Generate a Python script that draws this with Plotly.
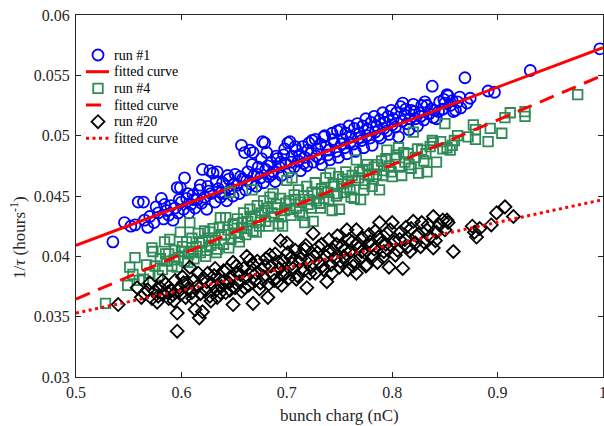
import plotly.graph_objects as go

# ---------------- data ----------------
run1_x = [0.535, 0.546, 0.552, 0.556, 0.559, 0.564, 0.565, 0.568, 0.570, 0.574, 0.578, 0.581, 0.583, 0.586, 0.588,
          0.590, 0.592, 0.594, 0.596, 0.597, 0.599, 0.600, 0.602, 0.603, 0.605, 0.607, 0.609, 0.611, 0.613, 0.615,
          0.617, 0.619, 0.620, 0.622, 0.624, 0.625, 0.627, 0.628, 0.630, 0.632, 0.634, 0.635, 0.637, 0.639, 0.641,
          0.643, 0.645, 0.647, 0.649, 0.651, 0.653, 0.655, 0.657, 0.658, 0.660, 0.661, 0.663, 0.665, 0.666, 0.668,
          0.669, 0.671, 0.673, 0.675, 0.677, 0.678, 0.679, 0.680, 0.681, 0.683, 0.685, 0.687, 0.689, 0.691, 0.693,
          0.695, 0.697, 0.699, 0.701, 0.702, 0.703, 0.705, 0.707, 0.709, 0.711, 0.713, 0.715, 0.717, 0.719, 0.721,
          0.723, 0.725, 0.727, 0.729, 0.731, 0.733, 0.735, 0.737, 0.739, 0.741, 0.743, 0.745, 0.747, 0.749, 0.751,
          0.753, 0.755, 0.757, 0.759, 0.761, 0.763, 0.765, 0.767, 0.769, 0.771, 0.773, 0.775, 0.777, 0.779, 0.781,
          0.783, 0.785, 0.787, 0.789, 0.791, 0.793, 0.795, 0.797, 0.799, 0.801, 0.803, 0.806, 0.808, 0.810, 0.812,
          0.814, 0.816, 0.818, 0.820, 0.822, 0.824, 0.826, 0.828, 0.830, 0.833, 0.835, 0.838, 0.839, 0.840, 0.842,
          0.845, 0.848, 0.850, 0.852, 0.853, 0.855, 0.858, 0.860, 0.862, 0.865, 0.869, 0.874, 0.891, 0.897, 0.931,
          0.997,
          0.576, 0.584, 0.598, 0.606, 0.612, 0.618, 0.626, 0.633, 0.638, 0.644,
          0.650, 0.656, 0.662, 0.667, 0.672, 0.676, 0.682, 0.686, 0.690, 0.694,
          0.698, 0.704, 0.708, 0.712, 0.716, 0.720, 0.724, 0.728, 0.732, 0.736,
          0.740, 0.744, 0.748, 0.752, 0.756, 0.760, 0.764, 0.768, 0.772, 0.776,
          0.780, 0.784, 0.788, 0.792, 0.796, 0.800, 0.804, 0.809, 0.813, 0.817,
          0.821, 0.827, 0.831, 0.837, 0.844, 0.849, 0.857, 0.864, 0.871]
run1_y = [0.0412, 0.0428, 0.0425, 0.0426, 0.0445, 0.0445, 0.0430, 0.0424, 0.0433, 0.0428, 0.0436, 0.0448, 0.0431, 0.0438, 0.0434,
          0.0442, 0.0430, 0.0440, 0.0457, 0.0436, 0.0457, 0.0445, 0.0439, 0.0465, 0.0448, 0.0436, 0.0443, 0.0451, 0.0440, 0.0447,
          0.0455, 0.0444, 0.0472, 0.0449, 0.0439, 0.0458, 0.0471, 0.0452, 0.0469, 0.0445, 0.0470, 0.0456, 0.0449, 0.0461, 0.0452,
          0.0446, 0.0464, 0.0456, 0.0450, 0.0468, 0.0459, 0.0452, 0.0492, 0.0464, 0.0486, 0.0455, 0.0470, 0.0488, 0.0460, 0.0486,
          0.0467, 0.0458, 0.0474, 0.0465, 0.0495, 0.0461, 0.0494, 0.0472, 0.0486, 0.0466, 0.0478, 0.0470, 0.0462, 0.0481, 0.0474,
          0.0467, 0.0484, 0.0477, 0.0494, 0.0470, 0.0495, 0.0483, 0.0474, 0.0488, 0.0479, 0.0471, 0.0491, 0.0482, 0.0475, 0.0494,
          0.0486, 0.0478, 0.0497, 0.0489, 0.0481, 0.0476, 0.0499, 0.0491, 0.0484, 0.0480, 0.0502, 0.0494, 0.0487, 0.0482, 0.0505,
          0.0497, 0.0490, 0.0485, 0.0508, 0.0499, 0.0493, 0.0487, 0.0510, 0.0502, 0.0496, 0.0490, 0.0514, 0.0505, 0.0498, 0.0492,
          0.0516, 0.0508, 0.0500, 0.0498, 0.0519, 0.0511, 0.0504, 0.0501, 0.0521, 0.0514, 0.0507, 0.0499, 0.0524, 0.0527, 0.0517,
          0.0510, 0.0505, 0.0521, 0.0526, 0.0514, 0.0508, 0.0519, 0.0525, 0.0513, 0.0525, 0.0518, 0.0541, 0.0515, 0.0521, 0.0514,
          0.0528, 0.0522, 0.0527, 0.0534, 0.0533, 0.0525, 0.0520, 0.0521, 0.0528, 0.0523, 0.0548, 0.0531, 0.0537, 0.0536, 0.0554,
          0.0572,
          0.0441, 0.0443, 0.0447, 0.0452, 0.0447, 0.0459, 0.0454, 0.0462, 0.0453, 0.0467,
          0.0460, 0.0466, 0.0463, 0.0476, 0.0468, 0.0481, 0.0475, 0.0468, 0.0483, 0.0478,
          0.0489, 0.0478, 0.0491, 0.0484, 0.0477, 0.0488, 0.0496, 0.0483, 0.0493, 0.0500,
          0.0488, 0.0497, 0.0504, 0.0493, 0.0502, 0.0494, 0.0506, 0.0498, 0.0508, 0.0500,
          0.0511, 0.0503, 0.0513, 0.0506, 0.0516, 0.0509, 0.0519, 0.0512, 0.0522, 0.0514,
          0.0520, 0.0516, 0.0528, 0.0522, 0.0520, 0.0530, 0.0529, 0.0532, 0.0527]

run4_x = [0.528, 0.549, 0.551, 0.554, 0.556, 0.560, 0.564, 0.567, 0.570, 0.572, 0.573, 0.575, 0.578, 0.580, 0.582,
          0.584, 0.586, 0.588, 0.589, 0.591, 0.594, 0.596, 0.597, 0.599, 0.601, 0.603, 0.605, 0.607, 0.608, 0.610,
          0.612, 0.614, 0.616, 0.618, 0.620, 0.622, 0.624, 0.626, 0.628, 0.630, 0.632, 0.634, 0.637, 0.638, 0.640,
          0.642, 0.644, 0.646, 0.647, 0.649, 0.651, 0.653, 0.655, 0.657, 0.659, 0.661, 0.663, 0.665, 0.667, 0.668,
          0.670, 0.672, 0.674, 0.676, 0.678, 0.680, 0.682, 0.684, 0.687, 0.688, 0.690, 0.692, 0.694, 0.696, 0.698,
          0.700, 0.702, 0.704, 0.705, 0.707, 0.709, 0.711, 0.713, 0.715, 0.717, 0.719, 0.721, 0.723, 0.725, 0.727,
          0.729, 0.731, 0.733, 0.735, 0.737, 0.739, 0.741, 0.743, 0.745, 0.747, 0.749, 0.750, 0.752, 0.754, 0.756,
          0.758, 0.760, 0.762, 0.764, 0.766, 0.768, 0.770, 0.772, 0.774, 0.776, 0.778, 0.781, 0.783, 0.785, 0.788,
          0.790, 0.792, 0.795, 0.797, 0.800, 0.803, 0.806, 0.809, 0.812, 0.815, 0.818, 0.820, 0.822, 0.825, 0.828,
          0.830, 0.833, 0.836, 0.839, 0.842, 0.846, 0.850, 0.852, 0.855, 0.857, 0.859, 0.872, 0.877, 0.879, 0.879,
          0.891, 0.893, 0.904, 0.907, 0.912, 0.926, 0.926, 0.976,
          0.585, 0.593, 0.600, 0.606, 0.611, 0.617, 0.623, 0.627, 0.633, 0.636,
          0.641, 0.645, 0.650, 0.654, 0.658, 0.662, 0.666, 0.671, 0.675, 0.679,
          0.683, 0.686, 0.691, 0.695, 0.699, 0.703, 0.708, 0.712, 0.716, 0.720,
          0.724, 0.728, 0.732, 0.736, 0.740, 0.744, 0.748, 0.753, 0.757, 0.761,
          0.765, 0.769, 0.773, 0.777, 0.782, 0.786, 0.791, 0.794, 0.799, 0.804,
          0.807, 0.811, 0.816, 0.824, 0.832, 0.838, 0.848, 0.862]
run4_y = [0.0361, 0.0376, 0.0391, 0.0385, 0.0399, 0.0380, 0.0381, 0.0393, 0.0386, 0.0407, 0.0404, 0.0392, 0.0384, 0.0398, 0.0389,
          0.0412, 0.0396, 0.0402, 0.0414, 0.0392, 0.0405, 0.0391, 0.0399, 0.0420, 0.0408, 0.0396, 0.0412, 0.0402, 0.0428, 0.0415,
          0.0398, 0.0408, 0.0419, 0.0403, 0.0412, 0.0421, 0.0405, 0.0415, 0.0409, 0.0423, 0.0413, 0.0406, 0.0432, 0.0418, 0.0410,
          0.0432, 0.0422, 0.0453, 0.0414, 0.0426, 0.0419, 0.0431, 0.0412, 0.0424, 0.0436, 0.0418, 0.0429, 0.0439, 0.0455, 0.0421,
          0.0433, 0.0442, 0.0425, 0.0436, 0.0446, 0.0429, 0.0440, 0.0449, 0.0452, 0.0433, 0.0443, 0.0427, 0.0448, 0.0425, 0.0438,
          0.0463, 0.0446, 0.0434, 0.0465, 0.0451, 0.0440, 0.0455, 0.0445, 0.0434, 0.0428, 0.0458, 0.0447, 0.0440, 0.0429, 0.0461,
          0.0452, 0.0444, 0.0456, 0.0448, 0.0465, 0.0453, 0.0469, 0.0438, 0.0458, 0.0450, 0.0466, 0.0439, 0.0460, 0.0453, 0.0470,
          0.0462, 0.0455, 0.0467, 0.0448, 0.0480, 0.0465, 0.0447, 0.0471, 0.0460, 0.0476, 0.0467, 0.0458, 0.0474, 0.0468, 0.0455,
          0.0479, 0.0471, 0.0488, 0.0475, 0.0466, 0.0481, 0.0490, 0.0467, 0.0478, 0.0485, 0.0473, 0.0503, 0.0482, 0.0469, 0.0488,
          0.0479, 0.0470, 0.0491, 0.0494, 0.0478, 0.0495, 0.0510, 0.0490, 0.0488, 0.0492, 0.0496, 0.0499, 0.0509, 0.0505, 0.0497,
          0.0495, 0.0506, 0.0502, 0.0515, 0.0519, 0.0520, 0.0516, 0.0534,
          0.0402, 0.0397, 0.0404, 0.0395, 0.0404, 0.0412, 0.0400, 0.0420, 0.0403, 0.0424,
          0.0418, 0.0407, 0.0427, 0.0416, 0.0428, 0.0423, 0.0433, 0.0420, 0.0430, 0.0438,
          0.0425, 0.0436, 0.0440, 0.0433, 0.0444, 0.0439, 0.0447, 0.0437, 0.0450, 0.0443,
          0.0453, 0.0446, 0.0440, 0.0454, 0.0447, 0.0460, 0.0452, 0.0464, 0.0457, 0.0449,
          0.0463, 0.0470, 0.0455, 0.0472, 0.0464, 0.0476, 0.0467, 0.0481, 0.0470, 0.0484,
          0.0474, 0.0486, 0.0476, 0.0489, 0.0485, 0.0496, 0.0489, 0.0500]

run20_x = [0.540, 0.558, 0.562, 0.565, 0.570, 0.572, 0.575, 0.578, 0.580, 0.583, 0.585, 0.588, 0.590, 0.592, 0.594,
           0.596, 0.596, 0.598, 0.600, 0.602, 0.604, 0.606, 0.608, 0.610, 0.612, 0.613, 0.615, 0.617, 0.618, 0.620,
           0.621, 0.623, 0.625, 0.627, 0.629, 0.631, 0.633, 0.634, 0.636, 0.638, 0.640, 0.642, 0.643, 0.645, 0.647,
           0.649, 0.649, 0.651, 0.653, 0.655, 0.657, 0.659, 0.661, 0.662, 0.664, 0.666, 0.668, 0.668, 0.670, 0.672,
           0.674, 0.676, 0.678, 0.680, 0.682, 0.683, 0.685, 0.687, 0.689, 0.691, 0.693, 0.694, 0.695, 0.697, 0.699,
           0.700, 0.702, 0.704, 0.706, 0.708, 0.710, 0.712, 0.714, 0.716, 0.718, 0.719, 0.721, 0.723, 0.725, 0.727,
           0.729, 0.731, 0.733, 0.735, 0.737, 0.738, 0.740, 0.742, 0.744, 0.746, 0.748, 0.750, 0.752, 0.754, 0.757,
           0.758, 0.760, 0.762, 0.764, 0.766, 0.766, 0.768, 0.770, 0.772, 0.774, 0.776, 0.778, 0.780, 0.782, 0.784,
           0.786, 0.788, 0.790, 0.792, 0.795, 0.797, 0.800, 0.802, 0.805, 0.808, 0.810, 0.812, 0.815, 0.818, 0.820,
           0.822, 0.825, 0.828, 0.830, 0.833, 0.836, 0.839, 0.839, 0.842, 0.845, 0.848, 0.852, 0.853, 0.858, 0.876,
           0.878, 0.880, 0.883, 0.894, 0.899, 0.907, 0.915,
           0.568, 0.577, 0.582, 0.587, 0.593, 0.601, 0.605, 0.611, 0.616, 0.624,
           0.628, 0.632, 0.637, 0.641, 0.646, 0.652, 0.656, 0.660, 0.665, 0.671,
           0.675, 0.679, 0.684, 0.688, 0.692, 0.696, 0.701, 0.705, 0.709, 0.713,
           0.717, 0.722, 0.726, 0.730, 0.734, 0.739, 0.743, 0.747, 0.751, 0.755,
           0.759, 0.763, 0.767, 0.771, 0.775, 0.779, 0.783, 0.787, 0.791, 0.794,
           0.798, 0.803, 0.807, 0.813, 0.817, 0.823, 0.827, 0.834, 0.841, 0.850]
run20_y = [0.0360, 0.0374, 0.0366, 0.0369, 0.0378, 0.0365, 0.0371, 0.0367, 0.0374, 0.0369, 0.0377, 0.0365, 0.0372, 0.0368, 0.0380,
           0.0353, 0.0338, 0.0374, 0.0369, 0.0378, 0.0366, 0.0373, 0.0391, 0.0370, 0.0380, 0.0356, 0.0375, 0.0349, 0.0369, 0.0354,
           0.0382, 0.0372, 0.0386, 0.0367, 0.0377, 0.0384, 0.0372, 0.0366, 0.0381, 0.0375, 0.0388, 0.0370, 0.0389, 0.0378, 0.0383,
           0.0360, 0.0395, 0.0374, 0.0386, 0.0379, 0.0371, 0.0390, 0.0382, 0.0400, 0.0376, 0.0387, 0.0361, 0.0393, 0.0380, 0.0396,
           0.0373, 0.0389, 0.0383, 0.0398, 0.0366, 0.0377, 0.0392, 0.0385, 0.0402, 0.0379, 0.0390, 0.0413, 0.0376, 0.0396, 0.0386,
           0.0411, 0.0382, 0.0399, 0.0390, 0.0405, 0.0384, 0.0395, 0.0402, 0.0388, 0.0409, 0.0374, 0.0397, 0.0391, 0.0419, 0.0386,
           0.0403, 0.0395, 0.0410, 0.0389, 0.0400, 0.0379, 0.0414, 0.0393, 0.0405, 0.0398, 0.0417, 0.0391, 0.0408, 0.0400, 0.0422,
           0.0389, 0.0404, 0.0412, 0.0396, 0.0422, 0.0386, 0.0407, 0.0399, 0.0415, 0.0403, 0.0393, 0.0418, 0.0409, 0.0400, 0.0421,
           0.0395, 0.0428, 0.0411, 0.0404, 0.0419, 0.0391, 0.0428, 0.0412, 0.0405, 0.0420, 0.0390, 0.0414, 0.0408, 0.0423, 0.0429,
           0.0411, 0.0418, 0.0428, 0.0412, 0.0422, 0.0416, 0.0433, 0.0407, 0.0420, 0.0426, 0.0430, 0.0430, 0.0428, 0.0404, 0.0425,
           0.0420, 0.0416, 0.0423, 0.0426, 0.0436, 0.0441, 0.0433,
           0.0372, 0.0362, 0.0380, 0.0370, 0.0363, 0.0383, 0.0378, 0.0365, 0.0386, 0.0379,
           0.0363, 0.0390, 0.0370, 0.0380, 0.0372, 0.0392, 0.0385, 0.0374, 0.0397, 0.0386,
           0.0378, 0.0392, 0.0401, 0.0380, 0.0395, 0.0385, 0.0403, 0.0394, 0.0381, 0.0398,
           0.0406, 0.0386, 0.0400, 0.0408, 0.0392, 0.0404, 0.0386, 0.0410, 0.0396, 0.0405,
           0.0414, 0.0392, 0.0411, 0.0404, 0.0392, 0.0412, 0.0406, 0.0416, 0.0399, 0.0410,
           0.0422, 0.0401, 0.0414, 0.0424, 0.0404, 0.0417, 0.0408, 0.0426, 0.0413, 0.0422]

fit_x = [0.5, 1.0]
fit1_y = [0.0409, 0.0573]
fit4_y = [0.03646, 0.05501]
fit20_y = [0.0353, 0.0447]

x_ticks = [0.5, 0.6, 0.7, 0.8, 0.9, 1.0]
x_ticklabels = ["0.5", "0.6", "0.7", "0.8", "0.9", "1"]
y_ticks = [0.03, 0.035, 0.04, 0.045, 0.05, 0.055, 0.06]
y_ticklabels = ["0.03", "0.035", "0.04", "0.045", "0.05", "0.055", "0.06"]

legend_labels = ["run #1", "fitted curve", "run #4", "fitted curve", "run #20", "fitted curve"]

assert len(run1_x) == len(run1_y), (len(run1_x), len(run1_y))
assert len(run4_x) == len(run4_y), (len(run4_x), len(run4_y))
assert len(run20_x) == len(run20_y), (len(run20_x), len(run20_y))

# ---------------- styling ----------------
FONT = "Liberation Serif, Times New Roman, serif"
AX = "#262626"
W, H = 604, 426
L, R, T, B = 76, 1, 15, 49
PW, PH = W - L - R, H - T - B

def px2x(px):
    return (px - L) / PW

def px2y(py):
    return (H - B - py) / PH

blue_marker = dict(symbol="circle-open", size=11, color="#0000FF", line=dict(width=1.8))
green_marker = dict(symbol="square-open", size=9.5, color="#2E8B57", line=dict(width=1.8))
black_marker = dict(symbol="diamond-open", size=10, color="#000000", line=dict(width=1.8))
solid_line = dict(color="#FF0000", width=3)
dash_line = dict(color="#FF0000", width=3, dash="15px,9px")
dot_line = dict(color="#FF0000", width=3, dash="3px,3.5px")

fig = go.Figure()
fig.add_trace(go.Scatter(x=run1_x, y=run1_y, mode="markers", name="run #1", marker=blue_marker, showlegend=False))
fig.add_trace(go.Scatter(x=fit_x, y=fit1_y, mode="lines", name="fitted curve", line=solid_line, showlegend=False))
fig.add_trace(go.Scatter(x=run4_x, y=run4_y, mode="markers", name="run #4", marker=green_marker, showlegend=False))
fig.add_trace(go.Scatter(x=fit_x, y=fit4_y, mode="lines", name="fitted curve", line=dash_line, showlegend=False))
fig.add_trace(go.Scatter(x=run20_x, y=run20_y, mode="markers", name="run #20", marker=black_marker, showlegend=False))
fig.add_trace(go.Scatter(x=fit_x, y=fit20_y, mode="lines", name="fitted curve", line=dot_line, showlegend=False))

# ---- legend (compact, MATLAB-like), drawn on an overlay axis in plot-fraction coords ----
row_py = [55, 71.7, 88.3, 105, 121.7, 138.3]
sym_cx, line_x0, line_x1, text_x = 98, 86, 109, 112
styles = [("m", blue_marker), ("l", solid_line), ("m", green_marker),
          ("l", dash_line), ("m", black_marker), ("l", dot_line)]
for (kind, st), py, lab in zip(styles, row_py, legend_labels):
    if kind == "m":
        fig.add_trace(go.Scatter(x=[px2x(sym_cx)], y=[px2y(py)], mode="markers", marker=st,
                                 xaxis="x2", yaxis="y2", showlegend=False, hoverinfo="skip", name=lab))
    else:
        fig.add_trace(go.Scatter(x=[px2x(line_x0), px2x(line_x1)], y=[px2y(py), px2y(py)], mode="lines",
                                 line=st, xaxis="x2", yaxis="y2", showlegend=False, hoverinfo="skip", name=lab))
    fig.add_annotation(text=lab, xref="paper", yref="paper", x=px2x(text_x), y=px2y(py),
                       xanchor="left", yanchor="middle", showarrow=False,
                       font=dict(family=FONT, size=14, color="#000000"))

axis_common = dict(showline=True, linecolor=AX, linewidth=1, mirror="ticks", ticks="inside",
                   ticklen=5, tickwidth=1, tickcolor=AX, showgrid=False, zeroline=False,
                   automargin=False, ticklabeloverflow="allow",
                   tickfont=dict(family=FONT, size=16, color=AX))
fig.update_xaxes(range=[0.5, 1.0], tickvals=x_ticks, ticktext=x_ticklabels, ticklabelstandoff=1, **axis_common)
fig.update_yaxes(range=[0.03, 0.06], tickvals=y_ticks, ticktext=y_ticklabels, ticklabelstandoff=2, **axis_common)

fig.add_annotation(text="bunch charg (nC)", xref="paper", yref="paper", x=0.5, y=px2y(415),
                   xanchor="center", yanchor="middle", showarrow=False,
                   font=dict(family=FONT, size=17, color=AX))
fig.add_annotation(text="1/<i>τ</i> (hours<sup>-1</sup>)", xref="paper", yref="paper", x=px2x(18), y=px2y(238),
                   xanchor="center", yanchor="middle", showarrow=False, textangle=-90,
                   font=dict(family=FONT, size=17, color=AX))

fig.update_layout(
    width=W, height=H,
    margin=dict(l=L, r=R, t=T, b=B),
    plot_bgcolor="white", paper_bgcolor="white",
    showlegend=False,
    xaxis2=dict(overlaying="x", range=[0, 1], visible=False, fixedrange=True),
    yaxis2=dict(overlaying="y", range=[0, 1], visible=False, fixedrange=True),
)

fig.write_html("out.html", config={"displayModeBar": False},
               post_script="document.body.style.margin='0';document.body.style.padding='0';")
